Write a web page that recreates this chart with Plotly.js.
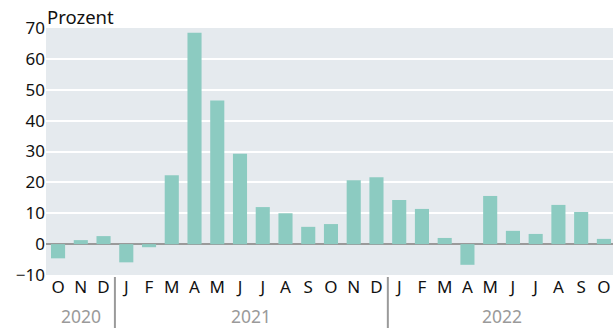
<!DOCTYPE html>
<html>
<head>
<meta charset="utf-8">
<script src="https://cdn.plot.ly/plotly-3.0.1.min.js"></script>
<style>html,body{margin:0;padding:0;background:#fff;}#chart{width:613px;height:328px;}</style>
</head>
<body>
<div id="chart"></div>
<script>
var months = ["O","N","D","J","F","M","A","M","J","J","A","S","O","N","D","J","F","M","A","M","J","J","A","S","O"];
var values = [-4.6,1.3,2.6,-5.9,-1.0,22.3,68.5,46.5,29.3,12.0,10.0,5.6,6.5,20.7,21.7,14.3,11.4,2.0,-6.7,15.6,4.3,3.3,12.7,10.4,1.7];
var years = ["2020","2021","2022"];
var yearStart = [0,3,15];
var yearEnd = [2,14,24];
var yTicks = [-10,0,10,20,30,40,50,60,70];
var yTickText = ["\u221210","0","10","20","30","40","50","60","70"];

var idx = months.map(function(_, i){ return i; });
var font = "Noto Sans, Open Sans, sans-serif";

var annotations = [{
  text: "Prozent", xref: "paper", yref: "paper", x: 0, y: 1,
  xanchor: "left", yanchor: "bottom", showarrow: false,
  font: {family: font, size: 18.5, color: "#111"}, xshift: -1, yshift: -3
}];
years.forEach(function(y, k){
  annotations.push({
    text: y, xref: "x", yref: "paper", x: (yearStart[k] + yearEnd[k]) / 2, y: 0,
    xanchor: "center", yanchor: "middle", yshift: -41, showarrow: false,
    font: {family: font, size: 17.5, color: "#9a9a9a"}
  });
});
var shapes = [];
for (var k = 1; k < years.length; k++) {
  var xs = yearStart[k] - 0.5;
  shapes.push({type: "line", xref: "x", yref: "paper", x0: xs, x1: xs, y0: -0.008, y1: -0.22,
    line: {color: "#9a9a9a", width: 2}});
}

Plotly.newPlot("chart", [{
  type: "bar", x: idx, y: values,
  marker: {color: "#8ccbc1"}, hoverinfo: "y"
}], {
  width: 613, height: 328,
  margin: {l: 46, r: 0, t: 28, b: 53},
  paper_bgcolor: "#ffffff", plot_bgcolor: "#e5eaee",
  bargap: 0.38,
  showlegend: false,
  xaxis: {
    range: [-0.53, 24.4], tickvals: idx, ticktext: months,
    showgrid: false, zeroline: false, ticks: "", showline: false,
    tickfont: {family: font, size: 17, color: "#111"}, fixedrange: true
  },
  yaxis: {
    range: [-10, 70], tickvals: yTicks, ticktext: yTickText,
    showgrid: true, gridcolor: "#ffffff", gridwidth: 2,
    zeroline: true, zerolinecolor: "#9a9a9a", zerolinewidth: 2,
    ticks: "", showline: false,
    tickfont: {family: font, size: 17, color: "#111"}, fixedrange: true
  },
  annotations: annotations,
  shapes: shapes
}, {displayModeBar: false, staticPlot: true});
</script>
</body>
</html>
